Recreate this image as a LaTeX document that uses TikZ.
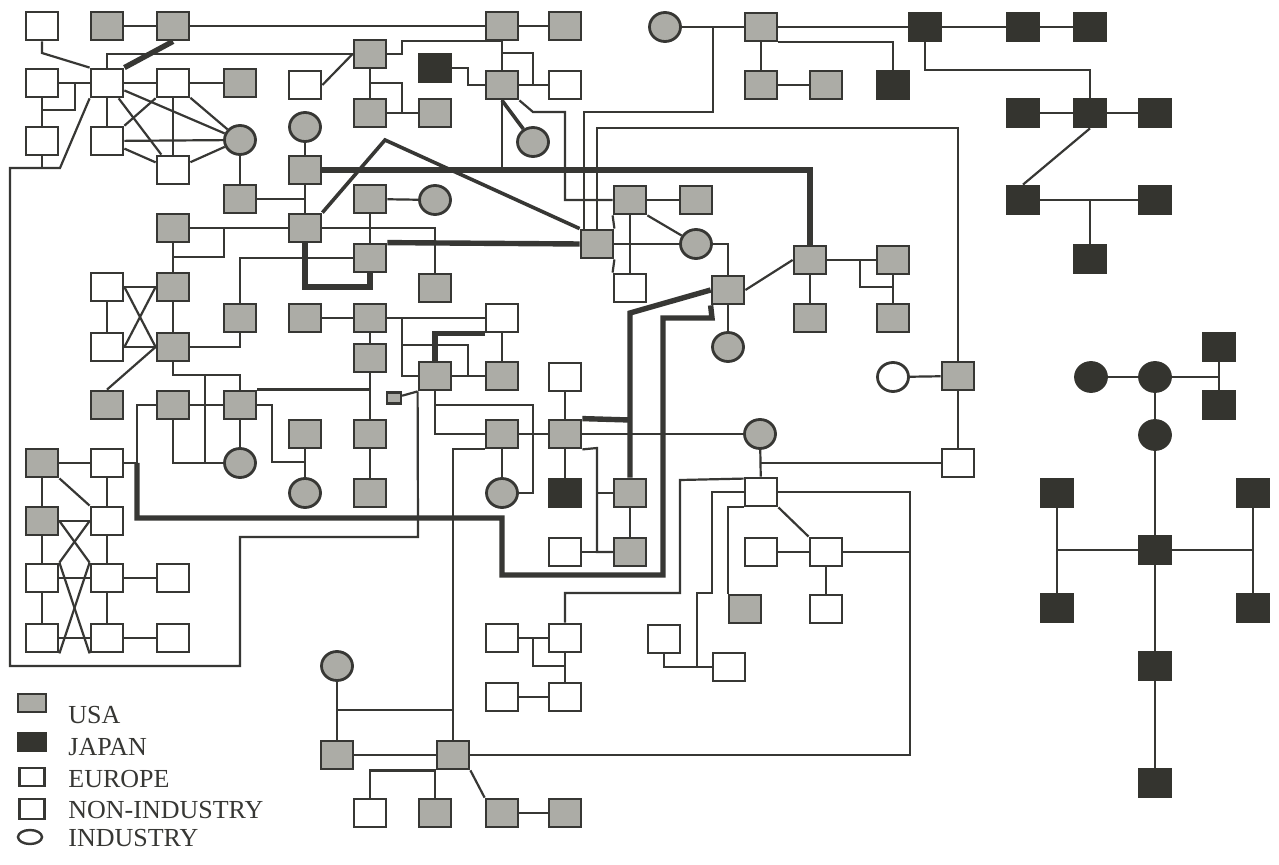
\documentclass[tikz,border=0pt]{standalone}
\usepackage{fontspec}
\setmainfont{Liberation Serif}
\usetikzlibrary{shapes.geometric}
\definecolor{lc}{RGB}{55,55,52}
\definecolor{usag}{RGB}{172,172,166}
\definecolor{jpk}{RGB}{52,52,47}
\pgfdeclarelayer{back}
\pgfdeclarelayer{bg}
\pgfsetlayers{back,bg,main}
\begin{document}
\begin{tikzpicture}[x=0.5pt,y=-0.5pt,
  box/.style={rectangle, draw=lc, line width=1.4pt, minimum width=16pt, minimum height=14pt, inner sep=0pt},
  usa/.style={box, fill=usag},
  jpn/.style={box, fill=jpk, draw=jpk},
  eur/.style={box, fill=white},
  circ/.style={ellipse, draw=lc, line width=1.4pt, minimum width=15.5pt, minimum height=14.5pt, inner sep=0pt},
  usac/.style={circ, fill=usag},
  jpc/.style={circ, fill=jpk, draw=jpk},
  whc/.style={circ, fill=white},
  ln/.style={draw=lc, line width=1.1pt},
  med/.style={draw=lc, line width=1.8pt},
  thk/.style={draw=lc, line width=2.7pt},
  lab/.style={anchor=west, text=lc, font=\fontsize{13}{15}\selectfont, inner sep=0pt}
]
\useasboundingbox (0,0) rectangle (1279,865);
\begin{pgfonlayer}{back}
\fill[white] (0,0) rectangle (1279,865);
\end{pgfonlayer}

% ---------- nodes: top-left
\node[eur] (E1) at (42,26) {};
\node[usa] (U1) at (107,26) {};
\node[usa] (U2) at (173,26) {};
\node[eur] (E2) at (42,83) {};
\node[eur] (EC) at (107,83) {};
\node[eur] (E3) at (173,83) {};
\node[usa] (U3) at (240,83) {};
\node[eur] (E4) at (42,141) {};
\node[eur] (E5) at (107,141) {};
\node[eur] (E6) at (173,170) {};
\node[usac] (C1) at (240,140) {};
\node[usa] (U4) at (240,199) {};
\node[eur] (E7) at (305,85) {};
\node[usac] (C2) at (305,127) {};
\node[usa] (U6) at (305,170) {};
\node[usa] (U7) at (305,228) {};
\node[usa] (U8) at (173,228) {};
\node[usa] (U9) at (173,287) {};
\node[eur] (E9) at (107,287) {};
\node[eur] (E10) at (107,347) {};
\node[usa] (U25) at (173,347) {};
\node[usa] (U26) at (107,405) {};
\node[usa] (U53) at (173,405) {};
\node[usa] (U54) at (240,405) {};
\node[usa] (U27) at (240,318) {};
\node[usa] (U28) at (305,318) {};
\node[usac] (C12) at (240,463) {};
\node[usa] (U39) at (305,434) {};
\node[usac] (C7) at (305,493) {};

% ---------- upper middle
\node[usa] (U5) at (370,54) {};
\node[jpn] (J4) at (435,68) {};
\node[usa] (U14) at (370,113) {};
\node[usa] (U15) at (435,113) {};
\node[usa] (U10) at (502,26) {};
\node[usa] (U11) at (565,26) {};
\node[usa] (U13) at (502,85) {};
\node[eur] (E8) at (565,85) {};
\node[usac] (C4) at (533,142) {};
\node[usa] (U22) at (370,199) {};
\node[usac] (C5) at (435,200) {};
\node[usa] (U24) at (370,258) {};
\node[usa] (U23) at (435,288) {};
\node[usa] (U30) at (370,318) {};
\node[eur] (E11) at (502,318) {};
\node[usa] (U32) at (370,358) {};
\node[usa] (U33) at (435,376) {};
\node[usa] (U34) at (502,376) {};
\node[usa, minimum width=7pt, minimum height=5.5pt, line width=1.1pt] (Us) at (394,398) {};
\node[eur] (E12) at (565,377) {};
\node[usa] (U35) at (502,434) {};
\node[usa] (U36) at (565,434) {};
\node[jpn] (J12) at (565,493) {};
\node[usac] (C6) at (502,493) {};
\node[usa] (U37) at (370,434) {};
\node[usa] (U38) at (370,493) {};
\node[eur] (E13) at (565,552) {};
\node[usa] (U40) at (630,552) {};
\node[usa] (U41) at (630,493) {};

% ---------- upper right
\node[usac] (C3) at (665,27) {};
\node[usa] (U12) at (761,27) {};
\node[jpn] (J1) at (925,27) {};
\node[jpn] (J2) at (1023,27) {};
\node[jpn] (J3) at (1090,27) {};
\node[usa] (U16) at (761,85) {};
\node[usa] (U17) at (826,85) {};
\node[jpn] (J5) at (893,85) {};
\node[jpn] (J6) at (1023,113) {};
\node[jpn] (J7) at (1090,113) {};
\node[jpn] (J8) at (1155,113) {};
\node[jpn] (J9) at (1023,200) {};
\node[jpn] (J10) at (1155,200) {};
\node[jpn] (J11) at (1090,259) {};
\node[usa] (U18) at (630,200) {};
\node[usa] (U56) at (696,200) {};
\node[usa] (U20) at (597,244) {};
\node[usac] (C13) at (696,244) {};
\node[eur] (E34) at (630,288) {};
\node[usa] (U42) at (728,290) {};
\node[usac] (C9) at (728,347) {};
\node[usa] (U21) at (810,260) {};
\node[usa] (U57) at (893,260) {};
\node[usa] (U43) at (810,318) {};
\node[usa] (U44) at (893,318) {};
\node[whc] (C10) at (893,377) {};
\node[usa] (U19) at (958,376) {};
\node[eur] (E14) at (958,463) {};
\node[usac] (C8) at (760,434) {};
\node[eur] (E15) at (761,492) {};
\node[eur] (E16) at (761,552) {};
\node[eur] (E17) at (826,552) {};
\node[eur] (E18) at (826,609) {};
\node[usa] (U45) at (745,609) {};
\node[eur] (E19) at (664,639) {};
\node[eur] (E20) at (729,667) {};

% ---------- bottom middle
\node[eur] (E21) at (502,638) {};
\node[eur] (E22) at (565,638) {};
\node[eur] (E23) at (502,697) {};
\node[eur] (E24) at (565,697) {};
\node[usac] (C11) at (337,666) {};
\node[usa] (U46) at (337,755) {};
\node[usa] (U47) at (453,755) {};
\node[eur] (E25) at (370,813) {};
\node[usa] (U48) at (435,813) {};
\node[usa] (U49) at (502,813) {};
\node[usa] (U50) at (565,813) {};

% ---------- bottom-left
\node[usa] (U51) at (42,463) {};
\node[eur] (E26) at (107,463) {};
\node[usa] (U52) at (42,521) {};
\node[eur] (E27) at (107,521) {};
\node[eur] (E28) at (42,578) {};
\node[eur] (E29) at (107,578) {};
\node[eur] (E30) at (173,578) {};
\node[eur] (E31) at (42,638) {};
\node[eur] (E32) at (107,638) {};
\node[eur] (E33) at (173,638) {};

% ---------- Japan lower right
\node[jpc] (JC1) at (1091,377) {};
\node[jpc] (JC2) at (1155,377) {};
\node[jpc] (JC3) at (1155,435) {};
\node[jpn] (J13) at (1219,347) {};
\node[jpn] (J14) at (1219,405) {};
\node[jpn] (J15) at (1057,493) {};
\node[jpn] (J16) at (1253,493) {};
\node[jpn] (J17) at (1155,550) {};
\node[jpn] (J18) at (1057,608) {};
\node[jpn] (J19) at (1253,608) {};
\node[jpn] (J20) at (1155,666) {};
\node[jpn] (J21) at (1155,783) {};

% ---------- legend
\node[usa, minimum width=14pt, minimum height=9pt] (LU) at (32,703) {};
\node[jpn, minimum width=14pt, minimum height=9pt] (LJ) at (32,742) {};
\node[eur, minimum width=12.5pt, minimum height=9pt, line width=1.2pt] (LE) at (32,777) {};
\node[eur, minimum width=12.5pt, minimum height=10pt, line width=1.2pt] (LN) at (32,809) {};
\node[whc, minimum width=12pt, minimum height=7pt, line width=1.2pt] (LI) at (30,837) {};
\node[lab] (TU) at (68,715) {USA};
\node[lab] (TJ) at (68,747) {JAPAN};
\node[lab] (TE) at (68,779) {EUROPE};
\node[lab] (TN) at (68,810) {NON-INDUSTRY};
\node[lab] (TI) at (68,838) {INDUSTRY};

% junction coordinates
\coordinate (jA) at (42,110);
\coordinate (jB) at (75,83);
\coordinate (jC) at (42,168);
\coordinate (jD) at (224,228);
\coordinate (jE) at (205,375);
\coordinate (jF) at (305,462);
\coordinate (jG) at (137,463);
\coordinate (jH) at (370,83);
\coordinate (jI) at (502,53);
\coordinate (jJ) at (713,27);
\coordinate (jK) at (402,318);
\coordinate (jL) at (403,345);
\coordinate (jM) at (435,405);
\coordinate (jN) at (630,420);
\coordinate (jO) at (597,493);
\coordinate (jP) at (760,463);
\coordinate (jQ) at (697,667);
\coordinate (jR) at (910,552);
\coordinate (jS) at (337,710);
\coordinate (jT) at (533,638);
\coordinate (jU) at (860,260);
\coordinate (jV) at (502,168);
\coordinate (jW) at (1090,200);
\coordinate (jX) at (1219,377);

\begin{pgfonlayer}{bg}
% top-left cluster
\draw[ln] (E1.south) -- (42,53) -- (EC.north west);
\draw[ln] (U1) -- (U2);
\draw[thk] (U2.south) -- (EC.north east);
\draw[ln] (U2) -- (U10);
\draw[ln] (EC.north) |- (U5.west);
\draw[ln] (E2) -- (EC);
\draw[ln] (E2) -- (E4);
\draw[ln] (jA) -| (jB);
\draw[ln] (EC) -- (E3);
\draw[ln] (E3) -- (U3);
\draw[ln] (EC) -- (E5);
\draw[ln] (EC) -- (C1);
\draw[ln] (EC) -- (E6);
\draw[ln] (E3) -- (E5);
\draw[ln] (E3) -- (E6);
\draw[ln] (E5) -- (C1);
\draw[ln] (E5) -- (E6);
\draw[ln] (E3) -- (C1);
\draw[ln] (E6) -- (C1);
\draw[ln] (C1) -- (U4);
\draw[ln] (E4) -- (jC);
\draw[ln] (EC.south west) -- (60,168) -- (10,168) -- (10,666) -- (240,666) -- (240,537) -- (418,537) -- (U33.south west);
\draw[ln] (E7.east) -- (U5.west);
\draw[ln] (C2) -- (U6);
\draw[ln] (U6) -- (U7);
\draw[ln] (U4) -- (U4 -| U6);
\draw[ln] (U8) -- (U7);
\draw[ln] (U8) -- (U9);
\draw[ln] (jD) -- (224,257) -- (173,257);
\draw[ln] (U9) -- (E9);
\draw[ln] (U9) -- (U25);
\draw[ln] (E9) -- (E10);
\draw[ln] (E10) -- (U25);
\draw[ln] (E9.east) -- (U25.west);
\draw[ln] (E10.east) -- (U9.west);
\draw[ln] (U26.north) -- (U25.west);
\draw[ln] (U25) -| (U27);
\draw[ln] (U25) -- (173,375) -| (U54);
\draw[ln] (jE) -- (205,462);
\draw[ln] (U53) -- (U54);
\draw[ln] (U53) |- (C12);
\draw[ln] (U54) -- (C12);
\draw[ln] (U54.north east) -- (U54.north east -| U32);
\draw[ln] (U54) -- (272,405) |- (jF);
\draw[ln] (U39) -- (C7);
\draw[ln] (U53) -- (137,405) -- (jG);
\draw[ln] (E26) -- (jG);
\draw[thk] (jG) -- (137,518) -- (502,518) -- (502,575) -- (663,575) -- (663,318) -- (712,318) -- (U42.south west);
\draw[ln] (U27) |- (U24);
\draw[ln] (U7) -| (U23);
\draw[thk] (U7.south) -- (305,287) -| (U24.south);
\draw[thk] (U24.north east) -- (U20.west);
\draw[med] (U7.north east) -- (385,140) -- (U20.north west);
\draw[thk] (U6) -| (U21);
\draw[ln] (U22) -- (C5);
\draw[ln] (U22) -- (U24);

% upper middle
\draw[ln] (U5) -- (U14);
\draw[ln] (jH) -- (402,83) -- (402,113);
\draw[ln] (U14) -- (U15);
\draw[ln] (U5.east) -- (402,54) |- (U10.south);
\draw[ln] (U10) -- (U11);
\draw[ln] (U10) -- (U13);
\draw[ln] (jI) -- (533,53) -- (533,85);
\draw[ln] (U13) -- (E8);
\draw[ln] (J4) -- (468,68) |- (U13);
\draw[med] (U13.south) -- (C4);
\draw[ln] (U13.south east) -- (533,112) -- (565,112) |- (U18);
\draw[ln] (U13) -- (jV);
\draw[ln] (584,231) -- (584,112) -- (713,112) -- (jJ);
\draw[ln] (U20.north) -- (597,128) -| (U19);

% upper right
\draw[ln] (C3) -- (U12);
\draw[ln] (U12) -- (J1);
\draw[ln] (J1) -- (J2);
\draw[ln] (J2) -- (J3);
\draw[ln] (U12.south east) -| (J5);
\draw[ln] (U12) -- (U16);
\draw[ln] (U16) -- (U17);
\draw[ln] (J1) -- (925,70) -| (J7);
\draw[ln] (J6) -- (J7);
\draw[ln] (J7) -- (J8);
\draw[ln] (J7.south) -- (J9.north);
\draw[ln] (J9) -- (J10);
\draw[ln] (J11) -- (jW);

% right middle
\draw[ln] (U18) -- (U56);
\draw[ln] (U18.south west) -- (U20.north east);
\draw[ln] (U18) -- (E34);
\draw[ln] (U18.south east) -- (C13);
\draw[ln] (U20.south east) -- (E34.north west);
\draw[ln] (U20) -- (C13);
\draw[ln] (C13) -| (U42);
\draw[ln] (U42.east) -- (U21.west);
\draw[ln] (U21) -- (U57);
\draw[ln] (U21) -- (U43);
\draw[ln] (U57) -- (U44);
\draw[ln] (jU) -- (860,287) -- (893,287);
\draw[ln] (U42) -- (C9);
\draw[thk] (U41.north) -- (630,313) -- (U42.west);
\draw[thk] (U36.north east) -- (jN);
\draw[ln] (U36) -- (C8);
\draw[ln] (U36.south east) -- (597,448) |- (U40.west);
\draw[ln] (jO) -- (U41.west);
\draw[ln] (E13) -- (U40);
\draw[ln] (U41) -- (U40);
\draw[ln] (E12) -- (U36);
\draw[ln] (U35) -- (U36);
\draw[ln] (U36) -- (J12);
\draw[ln] (U35) -- (C6);
\draw[ln] (C8) -- (E15);
\draw[ln] (jP) -- (E14);
\draw[ln] (C10) -- (U19);
\draw[ln] (U19) -- (E14);
\draw[ln] (E22) -- (565,593) -- (680,593) -- (680,480) -- ([yshift=-1pt]E15.north west);
\draw[ln] (E20) -- (697,667) -- (697,593) -- (712,593) -- (712,492) -- (E15.west);
\draw[ln] (E19) |- (jQ);
\draw[ln] (E15.east) -- (910,492) |- (U47);
\draw[ln] (E15.south west) -| (U45.north west);
\draw[ln] (E15.south east) -- (E17.north west);
\draw[ln] (E16) -- (E17);
\draw[ln] (E17) -- (jR);
\draw[ln] (E17) -- (E18);

% middle
\draw[ln] (U28) -- (U30);
\draw[ln] (U30) -- (E11);
\draw[ln] (jK) |- (U33);
\draw[ln] (jL) -| (468,376);
\draw[thk] (U33.north) |- (E11.south west);
\draw[ln] (U33) -- (U34);
\draw[ln] (E11) -- (U34);
\draw[ln] (U33.south) |- (U35);
\draw[ln] (jM) -- (533,405) |- (C6);
\draw[ln] (Us) -- (U33.south west);
\draw[ln] (U30) -- (U32);
\draw[ln] (U32) -- (U37);
\draw[ln] (U37) -- (U38);

% bottom middle
\draw[ln] (C11) -- (U46);
\draw[ln] (jS) -- (453,710);
\draw[ln] (U46) -- (U47);
\draw[ln] (U47.north) |- (U35.south west);
\draw[ln] (E25.north) |- (U47.south west);
\draw[ln] (U48.north) -- (U48.north |- U47.south);
\draw[ln] (U47.south east) -- (U49.north west);
\draw[ln] (U49) -- (U50);
\draw[ln] (E21) -- (E22);
\draw[ln] (jT) -- (533,666) -- (565,666);
\draw[ln] (E22) -- (E24);
\draw[ln] (E23) -- (E24);

% bottom-left cluster
\draw[ln] (U51) -- (E26);
\draw[ln] (U51) -- (U52);
\draw[ln] (U51.south east) -- (E27.north west);
\draw[ln] (E26) -- (E27);
\draw[ln] (U52) -- (E27);
\draw[ln] (U52) -- (E28);
\draw[ln] (E27) -- (E29);
\draw[ln] (U52.east) -- (E29.north west);
\draw[ln] (E27.west) -- (E28.north east);
\draw[ln] (E28.north east) -- (E32.south west);
\draw[ln] (E29.north west) -- (E31.south east);
\draw[ln] (E28) -- (E29);
\draw[ln] (E29) -- (E30);
\draw[ln] (E31) -- (E32);
\draw[ln] (E32) -- (E33);
\draw[ln] (E28) -- (E31);
\draw[ln] (E29) -- (E32);

% Japan lower right
\draw[ln] (JC1) -- (JC2);
\draw[ln] (JC2) -- (jX);
\draw[ln] (J13) -- (J14);
\draw[ln] (JC2) -- (JC3);
\draw[ln] (JC3) -- (J17);
\draw[ln] (J15) -- (J18);
\draw[ln] (J16) -- (J19);
\draw[ln] (J17) -- (J17 -| J15);
\draw[ln] (J17) -- (J17 -| J16);
\draw[ln] (J17) -- (J20);
\draw[ln] (J20) -- (J21);
\end{pgfonlayer}
\end{tikzpicture}
\end{document}
